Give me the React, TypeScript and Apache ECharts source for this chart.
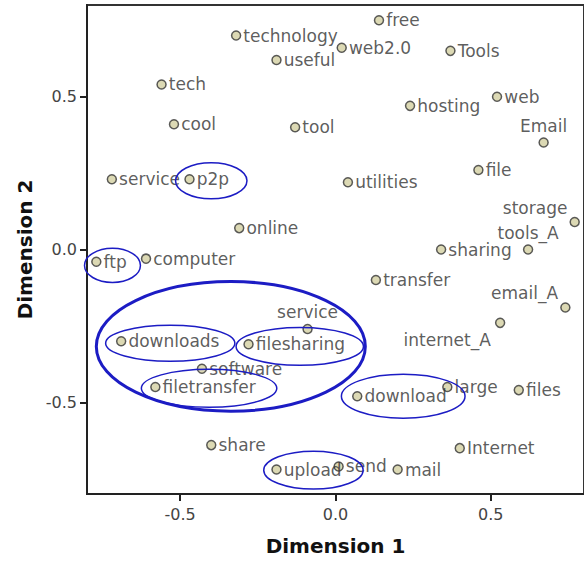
import React, { useEffect, useRef } from "react";
import * as echarts from "echarts";

// Terms and their MDS coordinates
const termNames = [
  "free", "technology", "web2.0", "useful", "Tools", "tech", "cool", "tool",
  "hosting", "web", "Email", "file", "service", "p2p", "utilities", "storage",
  "online", "tools_A", "sharing", "ftp", "computer", "transfer", "email_A",
  "internet_A", "service", "downloads", "filesharing", "software", "filetransfer",
  "download", "large", "files", "share", "Internet", "upload", "send", "mail",
];
const dimension1 = [
  0.14, -0.32, 0.02, -0.19, 0.37, -0.56, -0.52, -0.13,
  0.24, 0.52, 0.67, 0.46, -0.72, -0.47, 0.04, 0.77,
  -0.31, 0.62, 0.34, -0.77, -0.61, 0.13, 0.74,
  0.53, -0.09, -0.69, -0.28, -0.43, -0.58,
  0.07, 0.36, 0.59, -0.40, 0.40, -0.19, 0.01, 0.20,
];
const dimension2 = [
  0.75, 0.70, 0.66, 0.62, 0.65, 0.54, 0.41, 0.40,
  0.47, 0.50, 0.35, 0.26, 0.23, 0.23, 0.22, 0.09,
  0.07, 0.0, 0.0, -0.04, -0.03, -0.10, -0.19,
  -0.24, -0.26, -0.30, -0.31, -0.39, -0.45,
  -0.48, -0.45, -0.46, -0.64, -0.65, -0.72, -0.71, -0.72,
];

const tickValues = [-0.5, 0, 0.5];

// Highlighted groups (ellipses in data units)
const groupNames = ["p2p", "ftp", "cluster", "downloads", "filesharing", "filetransfer", "download", "upload"];
const groupCenterX = [-0.40, -0.718, -0.337, -0.532, -0.115, -0.407, 0.218, -0.071];
const groupCenterY = [0.225, -0.052, -0.317, -0.307, -0.317, -0.454, -0.48, -0.722];
const groupRadiusX = [0.115, 0.09, 0.433, 0.208, 0.205, 0.218, 0.199, 0.16];
const groupRadiusY = [0.059, 0.056, 0.212, 0.059, 0.062, 0.062, 0.072, 0.062];

const FONT = "DejaVu Sans";

// label placement overrides (style only), keyed by point index
const labelPlacement: Record<number, any> = {
  10: { position: "top", distance: 3 },
  15: { position: "left", distance: 2, offset: [0, -14] },
  17: { position: "top", distance: 3 },
  22: { position: "left", distance: 2, offset: [0, -15] },
  23: { position: "left", distance: 4, offset: [0, 17] },
  24: { position: "top", distance: 3 },
};

export default function App() {
  const ref = useRef<HTMLDivElement>(null);
  useEffect(() => {
    if (!ref.current) return;
    const chart = echarts.init(ref.current, undefined, { renderer: "svg" });
    const pointData = termNames.map((n, i) => ({
      name: n,
      value: [dimension1[i], dimension2[i]],
      label: labelPlacement[i] || undefined,
    }));
    const ellipseData = groupNames.map((n, i) => ({
      name: n,
      value: [groupCenterX[i], groupCenterY[i], groupRadiusX[i], groupRadiusY[i]],
    }));
    const axisCommon = {
      type: "value" as const,
      min: -0.8,
      max: 0.8,
      splitLine: { show: false },
      axisLine: { show: true, onZero: false, lineStyle: { color: "#222", width: 2 } },
      axisTick: { show: true, customValues: tickValues, length: 7, lineStyle: { color: "#222", width: 2 } },
      axisLabel: {
        customValues: tickValues,
        formatter: (v: number) => v.toFixed(1),
        fontSize: 16,
        color: "#444",
        fontFamily: FONT,
      },
      nameLocation: "middle" as const,
      nameTextStyle: { fontSize: 20, fontWeight: "bold" as const, color: "#111", fontFamily: FONT },
    };
    chart.setOption({
      animation: false,
      backgroundColor: "#fff",
      grid: {
        left: 87,
        top: 5,
        width: 500,
        height: 490,
        show: true,
        borderColor: "#333",
        borderWidth: 2,
        backgroundColor: "#fff",
      },
      xAxis: {
        ...axisCommon,
        name: "Dimension 1",
        nameGap: 42,
        axisLabel: { ...axisCommon.axisLabel, margin: 12 },
      },
      yAxis: {
        ...axisCommon,
        name: "Dimension 2",
        nameGap: 50,
        axisLabel: { ...axisCommon.axisLabel, margin: 10 },
      },
      series: [
        {
          type: "scatter",
          data: pointData,
          symbol: "circle",
          symbolSize: 9,
          itemStyle: { color: "#d3cfa1", borderColor: "#333", borderWidth: 1.5 },
          label: {
            show: true,
            formatter: "{b}",
            position: "right",
            distance: 2,
            color: "#333",
            fontSize: 17,
            fontFamily: FONT,
          },
          z: 2,
        },
        {
          type: "custom",
          data: ellipseData,
          z: 5,
          silent: true,
          renderItem: (params: any, api: any) => {
            const c = api.coord([api.value(0), api.value(1)]);
            const s = api.size([api.value(2), api.value(3)]);
            return {
              type: "ellipse",
              shape: { cx: c[0], cy: c[1], rx: s[0], ry: s[1] },
              style: {
                fill: "none",
                stroke: "#1c1cc4",
                lineWidth: params.dataIndex === 2 ? 3 : 1.5,
              },
            };
          },
        },
      ],
    });
    return () => chart.dispose();
  }, []);
  return <div ref={ref} style={{ position: "fixed", left: 0, top: 0, width: 584, height: 561 }} />;
}
